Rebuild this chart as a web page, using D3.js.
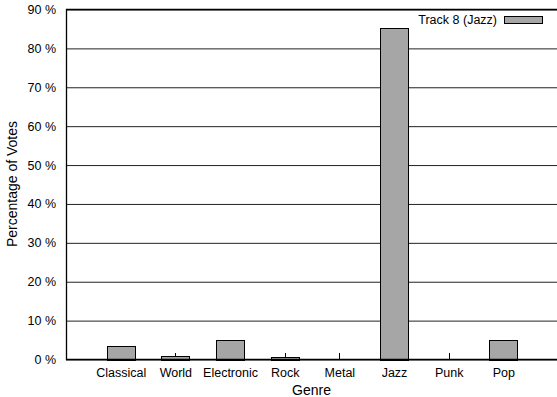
<!DOCTYPE html>
<html>
<head>
<meta charset="utf-8">
<script src="https://cdn.jsdelivr.net/npm/d3@7"></script>
<style>
  body { margin: 0; background: #fff; }
  text { font-family: "Liberation Sans", Arial, Helvetica, sans-serif; fill: #000; }
</style>
</head>
<body>
<div id="chart"></div>
<script>
var genres = ["Classical", "World", "Electronic", "Rock", "Metal", "Jazz", "Punk", "Pop"];
var votes = [3.6, 1.0, 5.0, 0.6, 0, 85.3, 0, 4.9];
var yTicks = [0, 10, 20, 30, 40, 50, 60, 70, 80, 90];
var seriesName = "Track 8 (Jazz)";

var svgWidth = 557;
var svgHeight = 397;

var plot = { left: 66, right: 558, top: 9, bottom: 359 };

var svg = d3.select("#chart")
  .append("svg")
  .attr("width", svgWidth)
  .attr("height", svgHeight);

var x = d3.scaleLinear()
  .domain([-1, genres.length])
  .range([plot.left, plot.right]);

var y = d3.scaleLinear()
  .domain([0, 90])
  .range([plot.bottom + 0.5, plot.top + 0.5]);

var data = genres.map((g, i) => ({ genre: g, value: votes[i], idx: i }));

// grid lines + y labels
var yAxis = d3.axisLeft(y)
  .tickValues(yTicks)
  .tickSize(-(plot.right - plot.left))
  .tickPadding(10)
  .tickFormat(d => d + " %");

svg.append("g")
  .attr("transform", `translate(${plot.left}, 0)`)
  .call(yAxis)
  .call(g => g.select(".domain").remove())
  .call(g => g.selectAll("line").attr("stroke", "#222").attr("stroke-width", 1))
  .call(g => g.selectAll("text").attr("font-size", 12.5).attr("fill", "#111"));

// small x tics pointing up from the bottom
svg.append("g")
  .selectAll("line")
  .data(data)
  .enter()
  .append("line")
  .attr("x1", d => Math.round(x(d.idx)) + 0.5)
  .attr("x2", d => Math.round(x(d.idx)) + 0.5)
  .attr("y1", plot.bottom)
  .attr("y2", plot.bottom - 6)
  .attr("stroke", "#000");

var barW = 0.51;

svg.append("g")
  .selectAll("rect")
  .data(data.filter(d => d.value > 0))
  .enter()
  .append("rect")
  .attr("x", d => Math.round(x(d.idx - barW / 2)) + 0.5)
  .attr("y", d => Math.round(y(d.value)) + 0.5)
  .attr("width", Math.round(x(barW) - x(0)))
  .attr("height", d => Math.round(y(0)) - Math.round(y(d.value)))
  .attr("fill", "#a6a6a6")
  .attr("stroke", "#000")
  .attr("stroke-width", 1);

// x labels
var xAxis = d3.axisBottom(x)
  .tickValues(d3.range(genres.length))
  .tickSize(0)
  .tickPadding(9)
  .tickFormat(i => genres[i]);

svg.append("g")
  .attr("transform", `translate(0, ${plot.bottom})`)
  .call(xAxis)
  .call(g => g.select(".domain").remove())
  .call(g => g.selectAll("text").attr("font-size", 12.5).attr("fill", "#111"));

// border (left, top, bottom)
svg.append("path")
  .attr("d", `M${plot.right},${plot.top + 0.5}H${plot.left + 0.5}V${plot.bottom + 0.5}H${plot.right}`)
  .attr("fill", "none")
  .attr("stroke", "#000")
  .attr("stroke-width", 1.3);

// axis titles
svg.append("text")
  .attr("transform", `translate(17, ${(plot.top + plot.bottom) / 2}) rotate(-90)`)
  .attr("text-anchor", "middle")
  .attr("font-size", 14)
  .attr("fill", "#111")
  .text("Percentage of Votes");

svg.append("text")
  .attr("x", (plot.left + svgWidth) / 2)
  .attr("y", 395)
  .attr("text-anchor", "middle")
  .attr("font-size", 14)
  .attr("fill", "#111")
  .text("Genre");

// legend
svg.append("text")
  .attr("x", 497)
  .attr("y", 24)
  .attr("text-anchor", "end")
  .attr("font-size", 12.5)
  .attr("fill", "#111")
  .text(seriesName);

svg.append("rect")
  .attr("x", 504.5)
  .attr("y", 16.5)
  .attr("width", 38)
  .attr("height", 7)
  .attr("fill", "#a6a6a6")
  .attr("stroke", "#000");
</script>
</body>
</html>
